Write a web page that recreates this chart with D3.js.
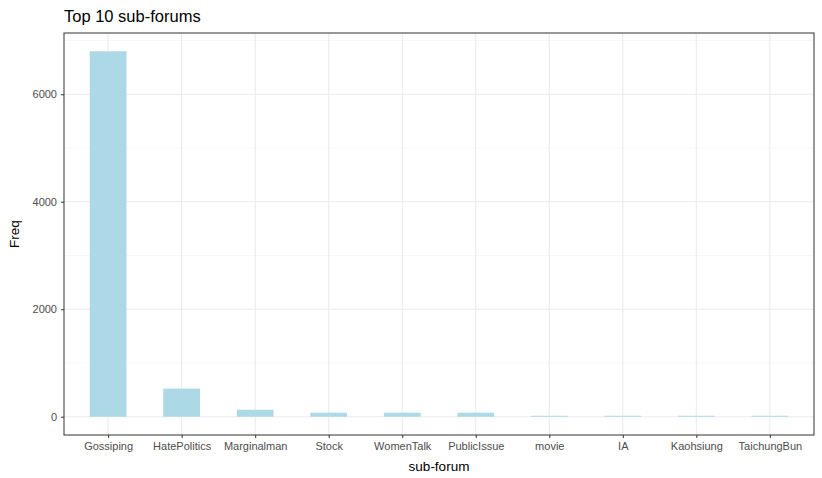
<!DOCTYPE html>
<html>
<head>
<meta charset="utf-8">
<script src="https://d3js.org/d3.v7.min.js"></script>
<style>
body { margin: 0; background: #fff; }
text { font-family: Arial, "Liberation Sans", sans-serif; }
</style>
</head>
<body>
<script>
var forums = ["Gossiping", "HatePolitics", "Marginalman", "Stock", "WomenTalk", "PublicIssue", "movie", "IA", "Kaohsiung", "TaichungBun"];
var freq = [6800, 523, 130, 75, 75, 75, 18, 18, 18, 18];
var yTicks = [0, 2000, 4000, 6000];

var W = 822, H = 478;
var pLeft = 64, pRight = 814, pTop = 33, pBottom = 435;

var svg = d3.select("body").append("svg").attr("width", W).attr("height", H);

var x = d3.scaleLinear().domain([0.4, forums.length + 0.6]).range([pLeft, pRight]);
var ymax = d3.max(freq);
var y = d3.scaleLinear().domain([-0.05 * ymax, 1.05 * ymax]).range([pBottom, pTop]);

// minor grid
var minorY = [1000, 3000, 5000, 7000].filter(function(v){ return y(v) > pTop; });
svg.selectAll(".gmy").data(minorY).enter().append("line")
  .attr("x1", pLeft).attr("x2", pRight).attr("y1", y).attr("y2", y)
  .attr("stroke", "#f2f2f2").attr("stroke-width", 0.6);
svg.selectAll(".gy").data(yTicks).enter().append("line")
  .attr("x1", pLeft).attr("x2", pRight).attr("y1", y).attr("y2", y)
  .attr("stroke", "#ebebeb").attr("stroke-width", 1.1);
svg.selectAll(".gx").data(forums).enter().append("line")
  .attr("x1", function(d, i){ return x(i + 1); }).attr("x2", function(d, i){ return x(i + 1); })
  .attr("y1", pTop).attr("y2", pBottom)
  .attr("stroke", "#ebebeb").attr("stroke-width", 1.1);

// bars
svg.selectAll(".bar").data(freq).enter().append("rect")
  .attr("x", function(d, i){ return x(i + 1 - 0.25); })
  .attr("width", x(1.25) - x(0.75))
  .attr("y", function(d){ return y(d); })
  .attr("height", function(d){ return y(0) - y(d); })
  .attr("fill", "#add8e6");

// panel border
svg.append("rect").attr("x", pLeft).attr("y", pTop).attr("width", pRight - pLeft).attr("height", pBottom - pTop)
  .attr("fill", "none").attr("stroke", "#333333").attr("stroke-width", 1);

// y axis
var ya = svg.append("g").attr("transform", "translate(" + pLeft + ",0)")
  .call(d3.axisLeft(y).tickValues(yTicks).tickFormat(d3.format("d")).tickSize(3).tickPadding(4));
ya.select(".domain").remove();
ya.selectAll("line").attr("stroke", "#333");
ya.selectAll("text").attr("font-size", 11).attr("fill", "#4d4d4d");

// x axis
var xa = svg.append("g").attr("transform", "translate(0," + pBottom + ")")
  .call(d3.axisBottom(x).tickValues(d3.range(1, forums.length + 1))
    .tickFormat(function(d){ return forums[d - 1]; }).tickSize(3).tickPadding(4));
xa.select(".domain").remove();
xa.selectAll("line").attr("stroke", "#333");
xa.selectAll("text").attr("font-size", 11).attr("fill", "#4d4d4d");

svg.append("text").attr("x", (pLeft + pRight) / 2).attr("y", 471).attr("text-anchor", "middle")
  .attr("font-size", 13.5).text("sub-forum");
svg.append("text").attr("transform", "translate(19," + ((pTop + pBottom) / 2) + ") rotate(-90)")
  .attr("text-anchor", "middle").attr("font-size", 13.5).text("Freq");
svg.append("text").attr("x", pLeft).attr("y", 22).attr("font-size", 16.5).text("Top 10 sub-forums");
</script>
</body>
</html>
